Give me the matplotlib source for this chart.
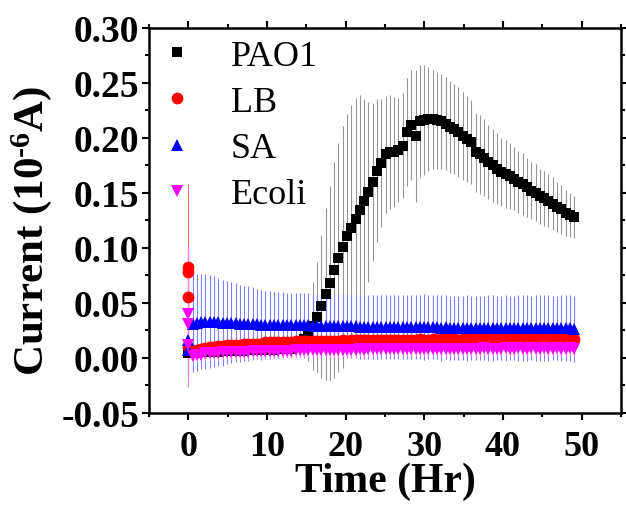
import numpy as np
import matplotlib
matplotlib.use("Agg")
import matplotlib.pyplot as plt

plt.rcParams['font.family'] = ['Liberation Serif', 'DejaVu Serif']
plt.rcParams['mathtext.fontset'] = 'custom'
plt.rcParams['mathtext.rm'] = 'Liberation Serif:bold'
plt.rcParams['mathtext.it'] = 'Liberation Serif:bold'
plt.rcParams['mathtext.bf'] = 'Liberation Serif:bold'

# tempo di campionamento (ore)
hours = [0.55, 1.09, 1.64, 2.18, 2.73, 3.27, 3.82, 4.36, 4.91, 5.45,
         6.00, 6.54, 7.09, 7.63, 8.18, 8.72, 9.27, 9.81, 10.36, 10.90,
         11.45, 11.99, 12.54, 13.08, 13.63, 14.17, 14.72, 15.26, 15.81, 16.35,
         16.90, 17.44, 17.99, 18.53, 19.08, 19.62, 20.17, 20.71, 21.26, 21.80,
         22.35, 22.89, 23.44, 23.98, 24.53, 25.07, 25.62, 26.16, 26.71, 27.25,
         27.80, 28.34, 28.89, 29.43, 29.98, 30.52, 31.07, 31.61, 32.16, 32.70,
         33.25, 33.79, 34.34, 34.88, 35.43, 35.97, 36.52, 37.06, 37.61, 38.15,
         38.70, 39.24, 39.79, 40.33, 40.88, 41.42, 41.97, 42.51, 43.06, 43.60,
         44.15, 44.69, 45.24, 45.78, 46.33, 46.87, 47.42, 47.96, 48.51, 49.05]

pao1 = [0.004, 0.004, 0.005, 0.005, 0.005, 0.005, 0.005, 0.006, 0.006, 0.006,
        0.006, 0.006, 0.006, 0.007, 0.007, 0.007, 0.007, 0.007, 0.007, 0.007,
        0.008, 0.008, 0.008, 0.008, 0.010, 0.013, 0.017, 0.022, 0.029, 0.037,
        0.047, 0.058, 0.068, 0.080, 0.091, 0.101, 0.111, 0.118, 0.126, 0.134,
        0.143, 0.151, 0.160, 0.170, 0.177, 0.185, 0.187, 0.187, 0.189, 0.193,
        0.205, 0.212, 0.202, 0.215, 0.216, 0.217, 0.217, 0.216, 0.215, 0.213,
        0.210, 0.208, 0.205, 0.202, 0.199, 0.196, 0.187, 0.185, 0.182, 0.178,
        0.175, 0.172, 0.169, 0.167, 0.165, 0.163, 0.160, 0.158, 0.155, 0.152,
        0.150, 0.147, 0.145, 0.143, 0.140, 0.137, 0.135, 0.132, 0.130, 0.128]
pao1_err = [0.005, 0.005, 0.005, 0.005, 0.005, 0.005, 0.005, 0.005, 0.005, 0.005,
            0.005, 0.005, 0.006, 0.006, 0.006, 0.006, 0.006, 0.006, 0.006, 0.006,
            0.006, 0.006, 0.006, 0.006, 0.009, 0.012, 0.017, 0.025, 0.040, 0.050,
            0.065, 0.078, 0.088, 0.098, 0.104, 0.110, 0.111, 0.112, 0.110, 0.105,
            0.092, 0.082, 0.072, 0.065, 0.058, 0.053, 0.052, 0.050, 0.047, 0.048,
            0.049, 0.050, 0.060, 0.051, 0.050, 0.047, 0.045, 0.044, 0.043, 0.042,
            0.042, 0.041, 0.041, 0.040, 0.039, 0.038, 0.036, 0.036, 0.035, 0.034,
            0.033, 0.032, 0.031, 0.031, 0.030, 0.029, 0.028, 0.028, 0.027, 0.026,
            0.026, 0.025, 0.025, 0.024, 0.024, 0.023, 0.022, 0.021, 0.020, 0.019]

lb = [0.006, 0.007, 0.008, 0.009, 0.010, 0.010, 0.011, 0.011, 0.012, 0.012,
      0.012, 0.012, 0.013, 0.013, 0.013, 0.013, 0.013, 0.014, 0.014, 0.014,
      0.014, 0.014, 0.014, 0.014, 0.015, 0.015, 0.015, 0.015, 0.015, 0.015,
      0.015, 0.015, 0.015, 0.015, 0.015, 0.016, 0.015, 0.016, 0.016, 0.016,
      0.016, 0.016, 0.016, 0.016, 0.016, 0.016, 0.016, 0.016, 0.016, 0.016,
      0.016, 0.016, 0.016, 0.017, 0.016, 0.016, 0.017, 0.016, 0.017, 0.017,
      0.017, 0.017, 0.016, 0.017, 0.017, 0.017, 0.017, 0.017, 0.017, 0.017,
      0.017, 0.017, 0.017, 0.017, 0.017, 0.017, 0.017, 0.017, 0.017, 0.017,
      0.017, 0.017, 0.017, 0.017, 0.017, 0.017, 0.017, 0.017, 0.017, 0.017]
lb_err = [0.008, 0.008, 0.008, 0.008, 0.008, 0.008, 0.008, 0.008, 0.008, 0.008,
          0.008, 0.008, 0.008, 0.008, 0.008, 0.008, 0.008, 0.008, 0.008, 0.008,
          0.008, 0.008, 0.008, 0.008, 0.008, 0.009, 0.009, 0.009, 0.009, 0.009,
          0.009, 0.009, 0.009, 0.009, 0.009, 0.009, 0.009, 0.009, 0.009, 0.009,
          0.009, 0.009, 0.009, 0.009, 0.009, 0.009, 0.009, 0.009, 0.009, 0.009,
          0.009, 0.009, 0.009, 0.009, 0.009, 0.009, 0.009, 0.009, 0.009, 0.009,
          0.009, 0.009, 0.009, 0.009, 0.009, 0.009, 0.009, 0.009, 0.009, 0.009,
          0.009, 0.009, 0.009, 0.009, 0.009, 0.009, 0.009, 0.009, 0.009, 0.009,
          0.009, 0.009, 0.009, 0.009, 0.009, 0.009, 0.009, 0.009, 0.009, 0.009]

sa = [0.031, 0.032, 0.033, 0.033, 0.033, 0.033, 0.033, 0.032, 0.032, 0.032,
      0.032, 0.031, 0.031, 0.031, 0.031, 0.031, 0.030, 0.030, 0.030, 0.030,
      0.030, 0.030, 0.030, 0.030, 0.030, 0.030, 0.030, 0.030, 0.029, 0.029,
      0.029, 0.029, 0.029, 0.029, 0.029, 0.029, 0.029, 0.029, 0.029, 0.028,
      0.028, 0.028, 0.028, 0.028, 0.028, 0.028, 0.028, 0.028, 0.028, 0.028,
      0.028, 0.028, 0.028, 0.028, 0.028, 0.028, 0.028, 0.028, 0.027, 0.028,
      0.027, 0.027, 0.027, 0.027, 0.027, 0.027, 0.027, 0.027, 0.027, 0.027,
      0.027, 0.027, 0.027, 0.027, 0.027, 0.027, 0.027, 0.027, 0.027, 0.027,
      0.027, 0.027, 0.027, 0.027, 0.027, 0.027, 0.027, 0.027, 0.027, 0.026]
sa_err = [0.044, 0.044, 0.043, 0.043, 0.042, 0.041, 0.040, 0.039, 0.038, 0.037,
          0.036, 0.035, 0.034, 0.034, 0.033, 0.032, 0.032, 0.031, 0.031, 0.030,
          0.030, 0.030, 0.029, 0.029, 0.029, 0.029, 0.029, 0.029, 0.029, 0.029,
          0.029, 0.029, 0.029, 0.029, 0.029, 0.029, 0.029, 0.029, 0.029, 0.029,
          0.029, 0.029, 0.029, 0.029, 0.029, 0.029, 0.029, 0.029, 0.029, 0.029,
          0.029, 0.029, 0.029, 0.029, 0.030, 0.029, 0.029, 0.029, 0.030, 0.029,
          0.029, 0.029, 0.029, 0.029, 0.030, 0.029, 0.029, 0.029, 0.029, 0.030,
          0.030, 0.029, 0.029, 0.030, 0.029, 0.029, 0.030, 0.030, 0.030, 0.029,
          0.030, 0.030, 0.030, 0.030, 0.029, 0.029, 0.030, 0.030, 0.030, 0.030]

ecoli = [0.002, 0.003, 0.003, 0.004, 0.004, 0.004, 0.004, 0.005, 0.005, 0.005,
         0.005, 0.005, 0.005, 0.005, 0.006, 0.006, 0.006, 0.006, 0.006, 0.006,
         0.006, 0.006, 0.006, 0.006, 0.007, 0.007, 0.007, 0.007, 0.007, 0.007,
         0.007, 0.007, 0.007, 0.007, 0.007, 0.007, 0.007, 0.007, 0.007, 0.008,
         0.007, 0.008, 0.008, 0.008, 0.008, 0.008, 0.008, 0.008, 0.008, 0.008,
         0.008, 0.008, 0.008, 0.008, 0.008, 0.008, 0.008, 0.008, 0.008, 0.008,
         0.008, 0.008, 0.008, 0.008, 0.008, 0.008, 0.008, 0.008, 0.009, 0.008,
         0.008, 0.008, 0.008, 0.009, 0.008, 0.008, 0.009, 0.008, 0.008, 0.009,
         0.008, 0.008, 0.009, 0.008, 0.008, 0.009, 0.008, 0.008, 0.009, 0.008]
ecoli_err = [0.006, 0.006, 0.006, 0.006, 0.006, 0.006, 0.006, 0.006, 0.006, 0.006,
             0.006, 0.006, 0.006, 0.006, 0.006, 0.006, 0.006, 0.006, 0.006, 0.006,
             0.006, 0.006, 0.006, 0.006, 0.006, 0.006, 0.006, 0.006, 0.006, 0.006,
             0.006, 0.006, 0.006, 0.006, 0.006, 0.006, 0.006, 0.006, 0.006, 0.006,
             0.006, 0.006, 0.006, 0.006, 0.006, 0.006, 0.006, 0.006, 0.006, 0.006,
             0.006, 0.006, 0.006, 0.006, 0.006, 0.006, 0.006, 0.006, 0.006, 0.006,
             0.006, 0.006, 0.006, 0.006, 0.006, 0.006, 0.006, 0.006, 0.006, 0.006,
             0.006, 0.006, 0.006, 0.006, 0.006, 0.006, 0.006, 0.006, 0.006, 0.006,
             0.006, 0.006, 0.006, 0.006, 0.006, 0.006, 0.006, 0.006, 0.006, 0.006]

# misure iniziali a t = 0
pao1_t0 = [0.004]
pao1_t0_err = [0.004]
lb_t0 = [0.083, 0.078, 0.055, 0.010]
lb_t0_err = [0.075, 0.064, 0.048, 0.010]
sa_t0 = [0.016, 0.007]
sa_t0_err = [0.020, 0.020]
ecoli_t0 = [0.040, 0.031, 0.012]
ecoli_t0_err = [0.062, 0.057, 0.015]

serie = [
    ("PAO1", pao1_t0 + pao1, pao1_t0_err + pao1_err, 's', 'black', '#969696', 6.5),
    ("LB", lb_t0 + lb, lb_t0_err + lb_err, 'o', 'red', '#ff7070', 8.5),
    ("SA", sa_t0 + sa, sa_t0_err + sa_err, '^', 'blue', '#7f7fff', 8.5),
    ("Ecoli", ecoli_t0 + ecoli, ecoli_t0_err + ecoli_err, 'v', 'magenta', '#ff7fff', 8.5),
]
n0 = {"PAO1": len(pao1_t0), "LB": len(lb_t0), "SA": len(sa_t0), "Ecoli": len(ecoli_t0)}

fig = plt.figure(figsize=(6.26, 5.06), dpi=100)
ax = fig.add_axes([0.238, 0.182, 0.754, 0.761])

handles = []
for nome, val, err, mk, col, ecol, ms in serie:
    x = [0.0] * n0[nome] + hours
    eb = ax.errorbar(x, val, yerr=err, fmt=mk, color=col, ecolor=ecol,
                     markersize=ms, elinewidth=0.8, capsize=3, capthick=0.8,
                     markeredgewidth=0, label=nome)
    handles.append(eb[0])

ax.set_xlim(-5, 55)
ax.set_ylim(-0.05, 0.30)
ax.set_xticks([0, 10, 20, 30, 40, 50])
ax.set_xticks([-5, 5, 15, 25, 35, 45, 55], minor=True)
ax.set_yticks([-0.05, 0.00, 0.05, 0.10, 0.15, 0.20, 0.25, 0.30])
ax.set_yticks(np.arange(-0.025, 0.30, 0.05), minor=True)
ax.set_yticklabels(["-0.05", "0.00", "0.05", "0.10", "0.15", "0.20", "0.25", "0.30"])

for s in ax.spines.values():
    s.set_linewidth(1.8)
ax.tick_params(which='both', direction='out', top=True, right=True, width=1.5)
ax.tick_params(which='major', length=5)
ax.tick_params(axis='y', which='major', pad=2)
ax.tick_params(axis='x', which='major', pad=7)
ax.tick_params(which='minor', length=3)
for lab in ax.get_xticklabels():
    lab.set_fontsize(26)
    lab.set_fontweight('bold')
for lab in ax.get_yticklabels():
    lab.set_fontsize(27)
    lab.set_fontweight('bold')

ax.set_xlabel("Time (Hr)", fontsize=30, fontweight='bold', labelpad=-1)
ax.set_ylabel(r"Current (10$^{\text{-6}}$A)", fontsize=31, fontweight='bold', labelpad=5)
ax.yaxis.label.set_y(0.475)

ax.legend(handles=handles, labels=["PAO1", "LB", "SA", "Ecoli"], loc='upper left',
          bbox_to_anchor=(-0.01, 1.017), frameon=False, fontsize=26,
          handlelength=0.8, handletextpad=1.1, labelspacing=0.36, borderaxespad=0.1)

plt.savefig("out.png", dpi=100)
